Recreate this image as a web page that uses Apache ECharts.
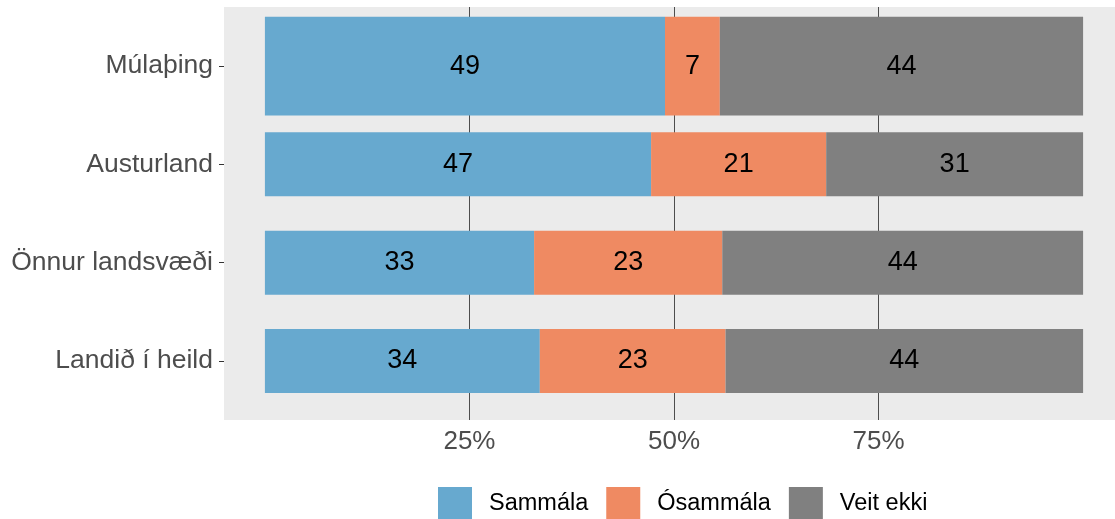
<!DOCTYPE html>
<html>
<head>
<meta charset="utf-8">
<script src="https://cdn.jsdelivr.net/npm/echarts@6/dist/echarts.min.js"></script>
<style>
  html, body { margin: 0; padding: 0; background: #fff; }
  #chart { width: 1115px; height: 519px; }
</style>
</head>
<body>
<div id="chart"></div>
<script>
// bottom to top, as the category axis runs
const categories = ["Landið í heild", "Önnur landsvæði", "Austurland", "Múlaþing"];
const sammala = [33.6, 32.9, 47.2, 48.9];
const osammala = [22.7, 23.0, 21.4, 6.7];
const veitEkki = [43.7, 44.1, 31.4, 44.4];
const tickValues = [25, 50, 75];

const names = ["Sammála", "Ósammála", "Veit ekki"];
const colors = ["#67A9CF", "#EF8A62", "#808080"];
const wideCat = categories.indexOf("Múlaþing");

const font = "'Liberation Sans', Arial, sans-serif";

const makeSeries = (wide) => [sammala, osammala, veitEkki].map((vals, k) => ({
	name: names[k],
	type: "bar",
	xAxisIndex: 1,
	yAxisIndex: wide ? 2 : 1,
	stack: wide ? "wide" : "narrow",
	barWidth: wide ? 99 : 64,
	itemStyle: { color: colors[k] },
	label: {
		show: true,
		position: "inside",
		color: "#000",
		fontSize: 27,
		fontFamily: font,
		formatter: (p) => Math.round(p.value)
	},
	data: vals.map((v, i) => (wide ? i === wideCat : i !== wideCat) ? v : null)
}));

const chart = echarts.init(document.getElementById("chart"));
chart.setOption({
	animation: false,
	textStyle: { fontFamily: font },
	grid: [
		{ left: 224, right: 0, top: 7, bottom: 99, show: true, backgroundColor: "#EBEBEB", borderWidth: 0 },
		{ left: 224, right: 0, top: 16.8, bottom: 108.8 }
	],
	xAxis: [
		{
			type: "value", gridIndex: 0, min: -5, max: 103.9,
			axisLine: { show: false },
			axisTick: { show: false, customValues: tickValues },
			axisLabel: {
				customValues: tickValues,
				formatter: "{value}%",
				color: "#4D4D4D",
				fontSize: 26,
				fontFamily: font,
				margin: 9
			},
			splitLine: { show: true, lineStyle: { color: "#4D4D4D", width: 1 } }
		},
		{ type: "value", gridIndex: 1, min: -5, max: 103.9, show: false }
	],
	yAxis: [
		{ type: "value", gridIndex: 0, show: false },
		{
			type: "category", gridIndex: 1, data: categories,
			axisLine: { show: false, onZero: false },
			axisTick: { show: true, length: 5, alignWithLabel: true, lineStyle: { color: "#333" } },
			axisLabel: { color: "#4D4D4D", fontSize: 26.5, fontFamily: font, margin: 11 }
		},
		{ type: "category", gridIndex: 1, data: categories, show: false, axisLine: { onZero: false } }
	],
	legend: {
		data: names,
		left: 433,
		top: 482,
		icon: "rect",
		itemWidth: 34,
		itemHeight: 34,
		itemGap: 18,
		textStyle: { color: "#000", fontSize: 23.5, fontFamily: font, padding: [0, 0, 0, 12] }
	},
	series: makeSeries(false).concat(makeSeries(true))
});
</script>
</body>
</html>
